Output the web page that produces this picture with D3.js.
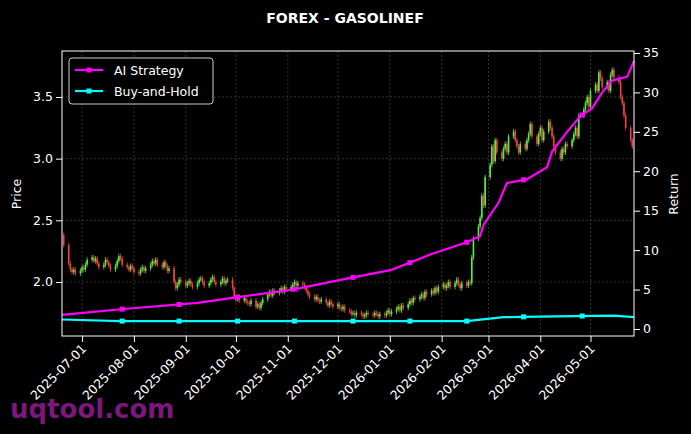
<!DOCTYPE html><html><head><meta charset="utf-8">
<script src="https://cdn.jsdelivr.net/npm/d3@7"></script>
<style>body{margin:0;background:#000}svg{font-family:"DejaVu Sans",sans-serif}</style></head><body>
<svg id="c" width="691" height="434"></svg>
<script>
const startDate="2025-06-20";
const closes=[2.30,
2.15,2.10,2.08,2.10,2.07, 2.09,2.12,2.10,2.14,2.18, 2.20,2.17,2.19,2.15,2.12, 2.14,2.18,2.16,2.13,2.10,
2.13,2.17,2.21,2.19,2.14, 2.12,2.10,2.13,2.11,2.08, 2.07,2.10,2.12,2.09,2.11, 2.14,2.17,2.15,2.18,2.14,
2.12,2.16,2.13,2.09,2.11, 2.00,1.95,1.98,2.02,2.00, 1.97,1.99,2.01,1.98,1.96, 1.99,2.02,2.03,2.00,1.97,
1.99,2.02,2.04,2.00,1.98, 2.00,2.03,1.99,2.01,2.02, 1.95,1.88,1.86,1.88,1.85, 1.87,1.84,1.83,1.82,1.85,
1.80,1.82,1.79,1.83,1.86, 1.90,1.92,1.89,1.93,1.91, 1.93,1.95,1.92,1.96,1.94, 1.96,1.98,2.00,1.97,1.99,
1.98,1.96,1.93,1.90,1.88, 1.86,1.88,1.85,1.84,1.86, 1.83,1.81,1.84,1.82,1.80, 1.82,1.79,1.78,1.80,1.77,
1.76,1.74,1.75,1.73,1.75, 1.74,1.72,1.73,1.75,1.74, 1.73,1.75,1.74,1.72,1.74, 1.73,1.75,1.77,1.74,1.76,
1.78,1.80,1.77,1.81,1.79, 1.82,1.85,1.83,1.87,1.86, 1.88,1.90,1.87,1.92,1.90, 1.93,1.91,1.95,1.92,1.96,
1.98,1.95,1.97,2.00,1.96, 1.99,2.02,1.98,1.95,1.99, 1.97,2.00,1.99,2.20,2.35, 2.45,2.52,2.70,2.62,2.85,
2.95,3.10,2.98,3.15,3.05, 3.00,3.08,3.12,3.05,3.18, 3.22,3.15,3.10,3.05,3.12, 3.08,3.15,3.20,3.28,3.18,
3.12,3.20,3.25,3.15,3.22, 3.30,3.25,3.18,3.10,3.05, 3.00,3.08,3.05,3.12,3.10, 3.15,3.20,3.25,3.18,3.35,
3.40,3.45,3.50,3.42,3.55, 3.60,3.55,3.70,3.65,3.58, 3.62,3.55,3.68,3.72,3.66, 3.62,3.50,3.45,3.35,3.25,
3.15,3.10];
const aiDates=["2025-06-19","2025-07-24","2025-09-08","2025-10-01","2025-11-04","2025-12-04","2026-01-02","2026-01-26","2026-02-16","2026-02-24","2026-02-26","2026-03-07","2026-03-12","2026-03-24","2026-04-05","2026-04-08","2026-04-17","2026-04-25","2026-05-02","2026-05-08","2026-05-14","2026-05-23","2026-05-27"];
const aiVals=[1.8,2.5,3.3,4.0,5.0,6.3,7.5,9.5,11,11.8,13.2,16,18.5,19,20.5,22.5,25,27,28,30,31.5,32,34];
const bhDates=["2025-06-19","2025-07-24","2026-02-16","2026-03-10","2026-04-10","2026-05-15","2026-05-27"];
const bhVals=[1.2,1.0,1.0,1.5,1.6,1.7,1.5];
const markerDates=["2025-07-25","2025-08-28","2025-10-02","2025-11-05","2025-12-10","2026-01-13","2026-02-16","2026-03-22","2026-04-26"];
const xTicks=["2025-07-01","2025-08-01","2025-09-01","2025-10-01","2025-11-01","2025-12-01","2026-01-01","2026-02-01","2026-03-01","2026-04-01","2026-05-01"];
const priceTicks=[2.0,2.5,3.0,3.5];
const retTicks=[0,5,10,15,20,25,30,35];

const P=d3.timeParse("%Y-%m-%d");
const svg=d3.select("#c");
const L=62,R=634,T=51,B=336;
const x=d3.scaleTime().domain([P("2025-06-19"),P("2026-05-27")]).range([L,R]);
const y=d3.scaleLinear().domain([1.562,3.873]).range([B,T]);
const y2=d3.scaleLinear().domain([-0.89,35.25]).range([B,T]);
const g=svg.append("g");
xTicks.forEach(t=>g.append("line").attr("x1",x(P(t))).attr("x2",x(P(t))).attr("y1",T).attr("y2",B).attr("stroke","#555").attr("stroke-width",0.6).attr("stroke-dasharray","2,2"));
priceTicks.forEach(t=>g.append("line").attr("x1",L).attr("x2",R).attr("y1",y(t)).attr("y2",y(t)).attr("stroke","#555").attr("stroke-width",0.6).attr("stroke-dasharray","2,2"));
let dates=[],d=P(startDate);
while(dates.length<closes.length){if(d.getDay()%6!==0)dates.push(new Date(d));d=d3.timeDay.offset(d,1);}
closes.forEach((c,i)=>{const o=i?closes[i-1]:c+0.08;const hi=Math.max(o,c)+0.02,lo=Math.min(o,c)-0.02;
 const col=c>=o?"#55ee44":"#ee4444";const cx=x(dates[i]);
 g.append("line").attr("x1",cx).attr("x2",cx).attr("y1",y(hi)).attr("y2",y(lo)).attr("stroke",col).attr("stroke-width",0.8);
 g.append("rect").attr("x",cx-0.8).attr("width",1.6).attr("y",y(Math.max(o,c))).attr("height",Math.max(0.8,y(Math.min(o,c))-y(Math.max(o,c)))).attr("fill",col);});
function series(ds,vs,col){const pts=ds.map((t,i)=>[x(P(t)),y2(vs[i])]);
 g.append("path").attr("d",d3.line()(pts)).attr("fill","none").attr("stroke",col).attr("stroke-width",2.2);
 const interp=d3.scaleTime().domain(ds.map(P)).range(vs);
 markerDates.forEach(m=>g.append("rect").attr("x",x(P(m))-2.5).attr("y",y2(interp(P(m)))-2.5).attr("width",5).attr("height",5).attr("fill",col));}
series(aiDates,aiVals,"#ff00ff");
series(bhDates,bhVals,"#00ffff");
g.append("rect").attr("x",L).attr("y",T).attr("width",R-L).attr("height",B-T).attr("fill","none").attr("stroke","#fff").attr("stroke-width",1);
const ax=svg.append("g").attr("transform",`translate(0,${B})`).call(d3.axisBottom(x).tickValues(xTicks.map(P)).tickFormat(d3.timeFormat("%Y-%m-%d")).tickSizeOuter(0));
ax.selectAll("text").attr("transform","rotate(-45)").attr("text-anchor","end").attr("dx","-0.5em").attr("dy","0.3em");
const ay=svg.append("g").attr("transform",`translate(${L},0)`).call(d3.axisLeft(y).tickValues(priceTicks).tickFormat(d3.format(".1f")).tickSizeOuter(0));
const ay2=svg.append("g").attr("transform",`translate(${R},0)`).call(d3.axisRight(y2).tickValues(retTicks).tickSizeOuter(0));
[ax,ay,ay2].forEach(a=>{a.select(".domain").remove();a.selectAll("line").attr("stroke","#fff");a.selectAll("text").attr("fill","#fff").attr("font-size",12.5).attr("font-family","DejaVu Sans");});
svg.append("text").attr("x",345).attr("y",23).attr("text-anchor","middle").attr("fill","#fff").attr("font-weight","bold").attr("font-size",14).text("FOREX - GASOLINEF");
svg.append("text").attr("transform","translate(21,194) rotate(-90)").attr("text-anchor","middle").attr("fill","#fff").attr("font-size",12.5).text("Price");
svg.append("text").attr("transform","translate(678,194) rotate(-90)").attr("text-anchor","middle").attr("fill","#fff").attr("font-size",12.5).text("Return");
const lg=svg.append("g");
lg.append("rect").attr("x",69).attr("y",58).attr("width",144).attr("height",46).attr("rx",3).attr("fill","#000").attr("stroke","#ccc");
[["AI Strategy","#ff00ff",70],["Buy-and-Hold","#00ffff",91]].forEach(([t,c,yy])=>{
 lg.append("line").attr("x1",75).attr("x2",103).attr("y1",yy).attr("y2",yy).attr("stroke",c).attr("stroke-width",2.2);
 lg.append("rect").attr("x",86.5).attr("y",yy-2.5).attr("width",5).attr("height",5).attr("fill",c);
 lg.append("text").attr("x",114).attr("y",yy+4.5).attr("fill","#fff").attr("font-size",12.5).text(t);});
svg.append("text").attr("x",10).attr("y",418).attr("fill","#8a1a8a").attr("font-weight","bold").attr("font-size",26).attr("opacity",0.9).text("uqtool.com");
</script></body></html>
